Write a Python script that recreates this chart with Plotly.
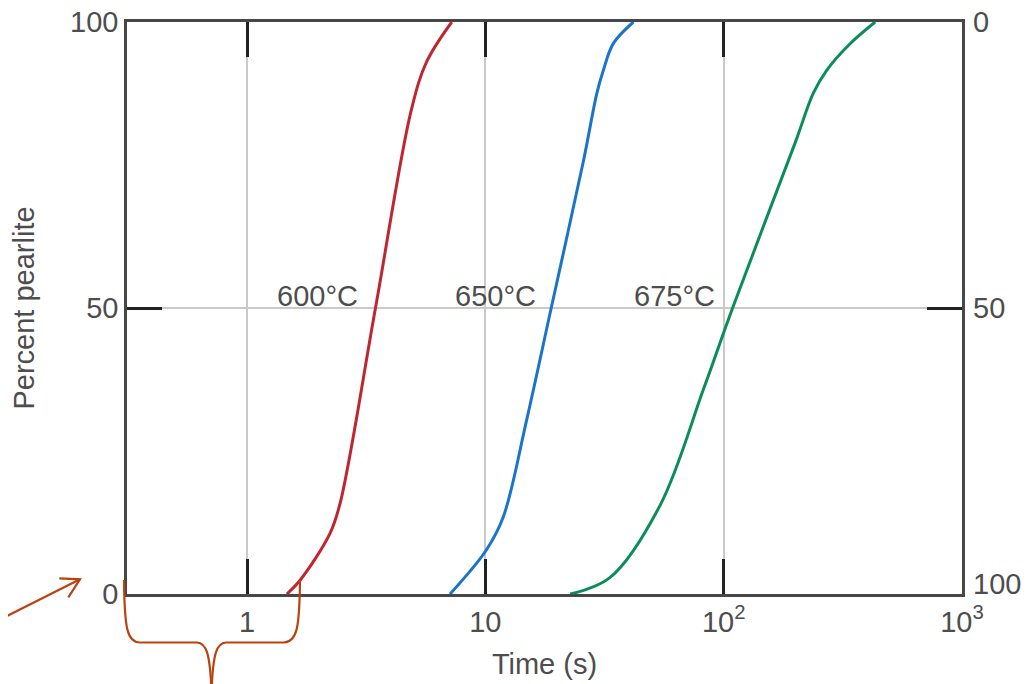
import math
import plotly.graph_objects as go

# ---- data ----
t600 = [1.47, 1.67, 2.23, 2.46, 3.46, 4.89, 5.68, 7.23]
p600 = [0, 2.4, 10.6, 15.9, 50, 84.6, 93.1, 100]

t650 = [7.11, 10.1, 11.9, 14.9, 18.9, 25.8, 29.4, 31.3, 34.5, 41.8]
p650 = [0, 7.7, 13.5, 30.4, 50, 75.7, 87.6, 91.6, 96.3, 100]

t675 = [22.7, 33.4, 54.1, 82.6, 109, 200, 238, 271, 339, 432]
p675 = [0, 2.9, 15.5, 36.0, 50, 79.0, 87.6, 91.6, 96.2, 100]

temp_labels = ["600°C", "650°C", "675°C"]
label_right_x = [2.98, 16.6, 93.8]   # seconds, right edge of each label

x_tickvals = [1, 10, 100, 1000]
x_ticktext = ["1", "10", "10<sup>2</sup>", "10<sup>3</sup>"]
y_tickvals = [0, 50, 100]
right_tickvals = [0, 50, 100]        # right-hand scale (100 - percent pearlite)

colors = ["#c0262f", "#1a74c9", "#0b8c5c"]

W, H = 1029, 684
OFF = 8  # page body offset
L, R, T, B = 127, 962, 22, 594   # plot area in screen pixels

FONT = "Liberation Sans, Arial, sans-serif"
TXT = "#4d4d4d"

fig = go.Figure()
for t, p, c in zip([t600, t650, t675], [p600, p650, p675], colors):
    fig.add_trace(go.Scatter(x=t, y=p, mode="lines",
                             line=dict(color=c, width=3, shape="spline", smoothing=1.0),
                             showlegend=False, hoverinfo="skip"))

for lab, xr in zip(temp_labels, label_right_x):
    fig.add_annotation(x=math.log10(xr), y=50, xref="x", yref="y", text=lab,
                       showarrow=False, xanchor="right", yanchor="bottom",
                       font=dict(family=FONT, size=29, color=TXT), yshift=-6)

# right-hand scale labels
for v in right_tickvals:
    fig.add_annotation(x=1, y=100 - v, xref="paper", yref="y", text=str(v),
                       showarrow=False, xanchor="left", yanchor="middle",
                       xshift=9, yshift=10 if v == 100 else 0,
                       font=dict(family=FONT, size=29, color=TXT))

# decorative annotations (arrow + brace), in pixel positions converted to paper
def px(x):
    return (x - L) / (R - L)

def py(y):
    return (B - y) / (B - T)

def path(cmds):
    out = []
    for c in cmds:
        if isinstance(c, str):
            out.append(c)
        else:
            out.append(f"{px(c[0]):.5f},{py(c[1]):.5f}")
    return " ".join(out)

BR = "#b8430f"
brace_left = path(["M", (124, 580), "C", (124.5, 628), (127, 642.5), (140, 642.5),
                   "L", (197, 642.5), "C", (206, 643), (210, 652), (211.5, 692)])
brace_right = path(["M", (211.5, 692), "C", (213, 652), (217, 643), (226, 642.5),
                    "L", (284, 642.5), "C", (297, 642), (299.5, 628), (300, 580)])
arrow = path(["M", (-5, 622), "L", (80, 579.3)])
arrow_head = path(["M", (59.3, 578.3), "L", (80, 579.3), "L", (68.3, 597.3)])
for pth in [brace_left, brace_right, arrow, arrow_head]:
    fig.add_shape(type="path", path=pth, xref="paper", yref="paper",
                  line=dict(color=BR, width=2.2), layer="above")

axis_common = dict(showline=True, linecolor="#474747", linewidth=2.5,
                   ticks="inside", ticklen=35, tickwidth=2.5, tickcolor="#222222",
                   mirror="ticks", showgrid=True, gridcolor="#c9c9c9", gridwidth=1.5,
                   zeroline=False, automargin=False, ticklabeloverflow="allow",
                   tickfont=dict(family=FONT, size=29, color=TXT))

fig.update_layout(
    width=W, height=H,
    margin=dict(l=L - OFF, r=W - R + OFF, t=T - OFF, b=H - B + OFF),
    paper_bgcolor="white", plot_bgcolor="white",
    xaxis=dict(type="log", range=[math.log10(1) - 120 / 238.33, 3],
               tickvals=x_tickvals, ticktext=x_ticktext,
               title=dict(text="Time (s)", standoff=18,
                          font=dict(family=FONT, size=29, color=TXT)),
               **axis_common),
    yaxis=dict(range=[0, 100], tickvals=y_tickvals,
               title=dict(text="Percent pearlite", standoff=40,
                          font=dict(family=FONT, size=29, color=TXT)),
               **axis_common),
)

fig.write_html("out.html")
